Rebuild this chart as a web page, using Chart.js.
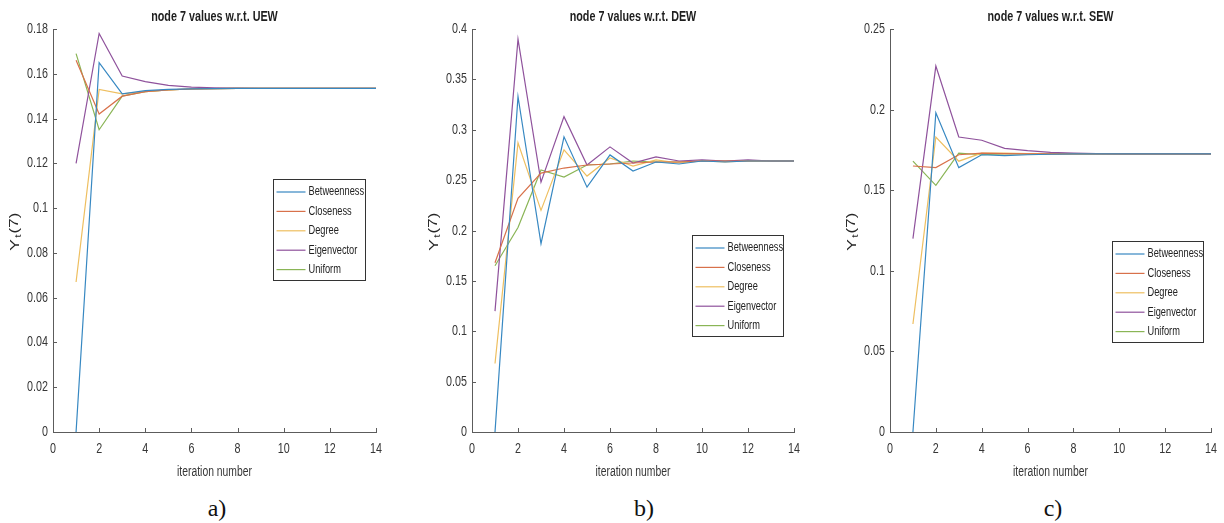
<!DOCTYPE html>
<html>
<head>
<meta charset="utf-8">
<script src="https://cdn.jsdelivr.net/npm/chart.js@4.4.0/dist/chart.umd.min.js"></script>
<style>
    body { margin: 0; background: #fff; width: 1224px; height: 523px; position: relative; overflow: hidden; }
    canvas { position: absolute; top: 0; }
    .cap { position: absolute; top: 492px; width: 80px; text-align: center; font: 24px 'Liberation Serif', 'Times New Roman', serif; line-height: 32px; color: #111; }
</style>
</head>
<body>
<canvas id="chartA" width="400" height="490" style="left:0px"></canvas>
<canvas id="chartB" width="410" height="490" style="left:405px"></canvas>
<canvas id="chartC" width="409" height="490" style="left:815px"></canvas>
<div class="cap" style="left:177px">a)</div>
<div class="cap" style="left:604px">b)</div>
<div class="cap" style="left:1013px">c)</div>
<script>
// iteration numbers on the x axis
const iterations = [1, 2, 3, 4, 5, 6, 7, 8, 9, 10, 11, 12, 13, 14];
const seriesNames = ['Betweenness', 'Closeness', 'Degree', 'Eigenvector', 'Uniform'];
const seriesColors = ['#3788c2', '#d8714a', '#eebf60', '#8f529c', '#8ab556'];

// a) UEW
const uewBetweenness = [0, 0.165, 0.151, 0.1525, 0.153, 0.1533, 0.1534, 0.1535, 0.1535, 0.1535, 0.1535, 0.1535, 0.1535, 0.1535];
const uewCloseness   = [0.166, 0.142, 0.150, 0.152, 0.1528, 0.1532, 0.1534, 0.1535, 0.1535, 0.1535, 0.1535, 0.1535, 0.1535, 0.1535];
const uewDegree      = [0.067, 0.153, 0.151, 0.152, 0.1528, 0.1532, 0.1534, 0.1535, 0.1535, 0.1535, 0.1535, 0.1535, 0.1535, 0.1535];
const uewEigenvector = [0.120, 0.178, 0.159, 0.1565, 0.1548, 0.154, 0.1537, 0.1536, 0.1535, 0.1535, 0.1535, 0.1535, 0.1535, 0.1535];
const uewUniform     = [0.169, 0.135, 0.150, 0.152, 0.1528, 0.1532, 0.1534, 0.1535, 0.1535, 0.1535, 0.1535, 0.1535, 0.1535, 0.1535];

// b) DEW
const dewBetweenness = [0, 0.333, 0.187, 0.293, 0.243, 0.275, 0.259, 0.268, 0.266, 0.269, 0.268, 0.269, 0.269, 0.269];
const dewCloseness   = [0.168, 0.232, 0.257, 0.262, 0.265, 0.266, 0.267, 0.268, 0.268, 0.269, 0.269, 0.269, 0.269, 0.269];
const dewDegree      = [0.068, 0.287, 0.220, 0.280, 0.254, 0.272, 0.264, 0.270, 0.267, 0.269, 0.268, 0.269, 0.269, 0.269];
const dewEigenvector = [0.120, 0.390, 0.248, 0.313, 0.265, 0.283, 0.267, 0.273, 0.269, 0.270, 0.269, 0.270, 0.269, 0.269];
const dewUniform     = [0.165, 0.203, 0.260, 0.253, 0.265, 0.266, 0.269, 0.268, 0.268, 0.269, 0.269, 0.269, 0.269, 0.269];

// c) SEW
const sewBetweenness = [0, 0.198, 0.164, 0.172, 0.1715, 0.172, 0.1723, 0.1725, 0.1725, 0.1725, 0.1725, 0.1725, 0.1725, 0.1725];
const sewCloseness   = [0.165, 0.164, 0.172, 0.173, 0.1727, 0.1725, 0.1725, 0.1725, 0.1725, 0.1725, 0.1725, 0.1725, 0.1725, 0.1725];
const sewDegree      = [0.067, 0.183, 0.168, 0.173, 0.173, 0.1727, 0.1725, 0.1725, 0.1725, 0.1725, 0.1725, 0.1725, 0.1725, 0.1725];
const sewEigenvector = [0.120, 0.227, 0.183, 0.181, 0.176, 0.1745, 0.1735, 0.173, 0.1727, 0.1725, 0.1725, 0.1725, 0.1725, 0.1725];
const sewUniform     = [0.168, 0.153, 0.173, 0.172, 0.1725, 0.1725, 0.1725, 0.1725, 0.1725, 0.1725, 0.1725, 0.1725, 0.1725, 0.1725];

const FONT = "'Liberation Sans', Arial, sans-serif";
const AXIS_COLOR = '#5c5c5c';
const TEXT_COLOR = '#363636';
const NARROW = 0.74; // the figure is squeezed sideways, so is all its text

// squeezed text helper
function texto(ctx, str, x, y, font, align, squeeze, rot) {
    ctx.save();
    ctx.translate(x, y);
    if (rot) {
        ctx.rotate(rot);
        ctx.scale(1, squeeze);
    } else {
        ctx.scale(squeeze, 1);
    }
    ctx.font = font;
    ctx.textAlign = align;
    ctx.textBaseline = 'middle';
    ctx.fillText(str, 0, 0);
    ctx.restore();
}

// MATLAB look: inward ticks, narrow labels, centred bold title, boxed legend inside the axes
const matlabAxes = {
    id: 'matlabAxes',
    afterDraw(chart, args, opts) {
        const { ctx, chartArea: a, scales: { x, y } } = chart;
        ctx.save();
        ctx.strokeStyle = AXIS_COLOR;
        ctx.lineWidth = 1;
        ctx.beginPath();
        x.ticks.forEach(t => {
            const px = Math.round(x.getPixelForValue(t.value)) + 0.5;
            ctx.moveTo(px, a.bottom);
            ctx.lineTo(px, a.bottom - 4);
        });
        y.ticks.forEach(t => {
            const py = Math.round(y.getPixelForValue(t.value)) + 0.5;
            ctx.moveTo(a.left, py);
            ctx.lineTo(a.left + 4, py);
        });
        ctx.stroke();

        // tick labels
        ctx.fillStyle = TEXT_COLOR;
        x.ticks.forEach(t => {
            texto(ctx, String(t.value), x.getPixelForValue(t.value), a.bottom + 17, '14.5px ' + FONT, 'center', NARROW);
        });
        y.ticks.forEach(t => {
            texto(ctx, String(+t.value.toFixed(3)), a.left - 5, y.getPixelForValue(t.value), '14.5px ' + FONT, 'right', NARROW);
        });

        // axis titles
        texto(ctx, 'iteration number', (a.left + a.right) / 2, 472, '14px ' + FONT, 'center', NARROW);
        const yc = 233, xc = a.left - 38;
        ctx.fillStyle = '#262626';
        texto(ctx, 'Y', xc, yc + 12, '18px ' + FONT, 'center', NARROW, -Math.PI / 2);
        texto(ctx, 't', xc + 4, yc + 3, '12px ' + FONT, 'center', NARROW, -Math.PI / 2);
        texto(ctx, '(7)', xc, yc - 10, '17px ' + FONT, 'center', NARROW, -Math.PI / 2);

        // title
        ctx.fillStyle = '#1e1e1e';
        texto(ctx, opts.title, (a.left + a.right) / 2, 17, 'bold 14px ' + FONT, 'center', 0.77);

        // legend
        const lg = opts.legend;
        const bx = Math.round(a.right - lg.right - lg.width) + 0.5;
        const by = lg.top + 0.5;
        ctx.fillStyle = '#fff';
        ctx.fillRect(bx, by, lg.width, lg.height);
        ctx.strokeStyle = '#333';
        ctx.strokeRect(bx, by, lg.width, lg.height);
        chart.data.datasets.forEach((ds, i) => {
            const ry = by + 12.5 + i * 19.4;
            ctx.strokeStyle = ds.borderColor;
            ctx.lineWidth = 1.2;
            ctx.beginPath();
            ctx.moveTo(bx + 3, ry);
            ctx.lineTo(bx + 32, ry);
            ctx.stroke();
            ctx.fillStyle = '#222';
            texto(ctx, ds.label, bx + 35, ry, '12.5px ' + FONT, 'left', NARROW);
        });
        ctx.restore();
    }
};

function criarGrafico(id, titulo, series, yMax, yStep, yWidth, padRight, legenda) {
    const datasets = series.map((vals, i) => ({
        label: seriesNames[i],
        data: iterations.map((it, j) => ({ x: it, y: vals[j] })),
        borderColor: seriesColors[i],
        borderWidth: 1.2,
        pointRadius: 0,
        tension: 0,
        fill: false
    }));

    new Chart(document.getElementById(id), {
        type: 'line',
        data: { datasets },
        options: {
            responsive: false,
            animation: false,
            devicePixelRatio: 1,
            layout: { padding: { top: 29, right: padRight, bottom: 0, left: 0 } },
            plugins: {
                legend: { display: false },
                tooltip: { enabled: false },
                matlabAxes: { title: titulo, legend: legenda }
            },
            scales: {
                x: {
                    type: 'linear',
                    min: 0,
                    max: 14,
                    ticks: { stepSize: 2, display: false },
                    grid: { display: false, drawTicks: false },
                    border: { display: true, color: AXIS_COLOR, width: 1 },
                    afterFit: s => { s.height = 58; }
                },
                y: {
                    min: 0,
                    max: yMax,
                    ticks: { stepSize: yStep, display: false },
                    grid: { display: false, drawTicks: false },
                    border: { display: true, color: AXIS_COLOR, width: 1 },
                    afterFit: s => { s.width = yWidth; }
                }
            }
        },
        plugins: [matlabAxes]
    });
}

criarGrafico('chartA', 'node 7 values w.r.t. UEW',
    [uewBetweenness, uewCloseness, uewDegree, uewEigenvector, uewUniform],
    0.18, 0.02, 53, 24, { right: 11, top: 179, width: 92, height: 101 });

criarGrafico('chartB', 'node 7 values w.r.t. DEW',
    [dewBetweenness, dewCloseness, dewDegree, dewEigenvector, dewUniform],
    0.4, 0.05, 67, 21, { right: 11, top: 235, width: 91, height: 101 });

criarGrafico('chartC', 'node 7 values w.r.t. SEW',
    [sewBetweenness, sewCloseness, sewDegree, sewEigenvector, sewUniform],
    0.25, 0.05, 75, 13, { right: 8, top: 241, width: 91, height: 101 });
</script>
</body>
</html>
